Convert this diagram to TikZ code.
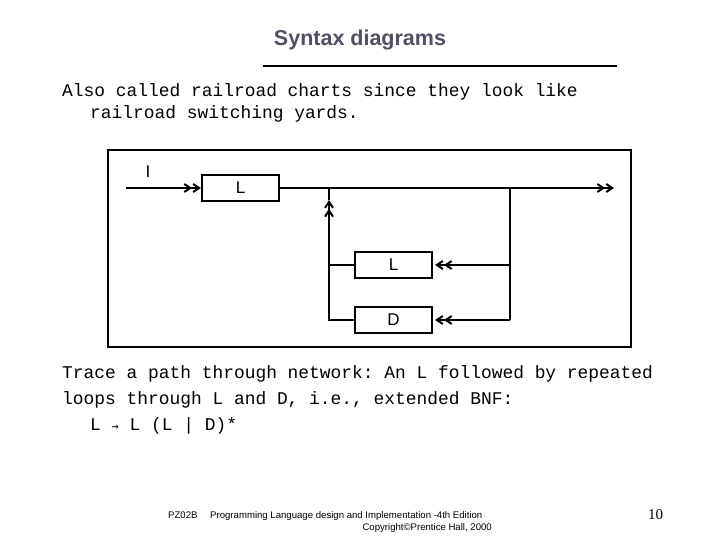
\documentclass[tikz,border=0pt]{standalone}
\usepackage{fontspec}
\setmainfont{Liberation Serif}
\setsansfont{Liberation Sans}
\setmonofont{Liberation Mono}
\usetikzlibrary{arrows.meta}
\definecolor{titlec}{RGB}{80,80,100}
\begin{document}
\begin{tikzpicture}[x=1pt,y=-1pt,
  box/.style={draw,line width=2.2pt,minimum width=77pt,minimum height=26pt,inner sep=0pt,font=\sffamily\fontsize{17}{17}\selectfont},
  ln/.style={line width=1.5pt},
  tip/.style={-{Straight Barb[length=6pt,width=8pt,line width=2pt]Straight Barb[length=6pt,width=8pt,line width=2pt]}},
  mono/.style={font=\ttfamily\fontsize{17.9}{18}\selectfont,anchor=base west,inner sep=0pt}]
\useasboundingbox (0,0) rectangle (720,540);
\node[font=\sffamily\bfseries\fontsize{21.5}{22}\selectfont,text=titlec] (title) at (360,40) {Syntax diagrams};
\draw[line width=2.5pt] (263,66) -- (617,66);
\node[mono] (t1) at (62,97) {Also called railroad charts since they look like};
\node[mono] (t2) at (90,119) {railroad switching yards.};
\draw[line width=2.2pt] (108,150) rectangle (631,347);
\node[box] (L1) at (240.5,188) {L};
\node[box] (L2) at (393.5,265) {L};
\node[box] (D) at (393.5,320) {D};
\node[font=\sffamily\fontsize{17}{17}\selectfont] (I) at (148,172) {I};
\coordinate (in) at (126,188);
\coordinate (out) at (614,188);
\coordinate (j1) at (329,188);
\coordinate (j1b) at (329,200);
\coordinate (j2) at (510,188);
\coordinate (r2) at (510,265);
\coordinate (r3) at (510,320);
\coordinate (l2) at (329,265);
\coordinate (l3) at (329,320);
\draw[ln,tip] (in) -- (L1.west);
\draw[ln,tip] (L1.east) -- (out);
\draw[ln] (j2) -- (r3);
\draw[ln,tip] (r2) -- ([xshift=2pt]L2.east);
\draw[ln,tip] (r3) -- ([xshift=2pt]D.east);
\draw[ln] (L2.west) -- (l2);
\draw[ln] (D.west) -- (l3) -- (l2);
\draw[ln,tip] (l2) -- (j1b);
\draw[ln] (j1b) -- (j1);
\node[mono] (t3) at (62,378) {Trace a path through network: An L followed by repeated};
\node[mono] (t4) at (62,404) {loops through L and D, i.e., extended BNF:};
\node[mono] (t5) at (90,430) {L {\fontspec{DejaVu Sans Mono}\fontsize{12}{12}\selectfont→} L (L | D)*};
\node[font=\sffamily\fontsize{9.6}{10}\selectfont,anchor=base west,inner sep=0pt] (f1) at (168,518) {PZ02B};
\node[font=\sffamily\fontsize{9.6}{10}\selectfont,anchor=base west,inner sep=0pt] (f2) at (210,518) {Programming Language design and Implementation -4th Edition};
\node[font=\sffamily\fontsize{9.6}{10}\selectfont,anchor=base east,inner sep=0pt] (f3) at (492,530) {Copyright©Prentice Hall, 2000};
\node[font=\fontsize{15}{15}\selectfont,anchor=base west,inner sep=0pt] (pg) at (648,519) {10};
\end{tikzpicture}
\end{document}
